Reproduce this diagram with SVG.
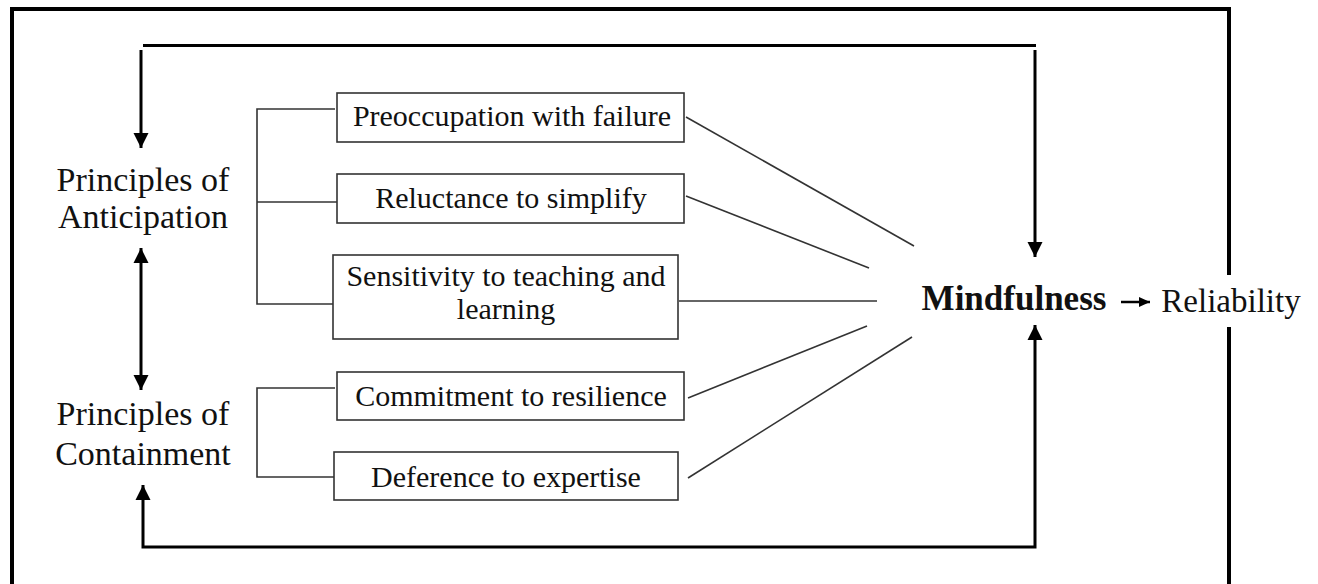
<svg xmlns="http://www.w3.org/2000/svg" width="1318" height="584" viewBox="0 0 1318 584">
<style>
  text { font-family: "Liberation Serif", "Times New Roman", serif; fill: #111; }
  .lbl { font-size: 34px; text-anchor: middle; }
  .box rect { fill: #fff; stroke: #333; stroke-width: 1.6; }
  .box text { font-size: 30px; text-anchor: middle; }
  .thin { stroke: #333; stroke-width: 1.6; fill: none; }
  .fb { stroke: #000; stroke-width: 3; fill: none; }
  .frame { stroke: #000; stroke-width: 4; fill: none; }
</style>
<defs>
  <marker id="ah" markerUnits="userSpaceOnUse" markerWidth="16" markerHeight="16" viewBox="0 0 16 16" refX="15" refY="8" orient="auto-start-reverse">
    <path d="M0,0.5 L15,8 L0,15.5 Z" fill="#000"/>
  </marker>
  <marker id="ahs" markerUnits="userSpaceOnUse" markerWidth="12" markerHeight="12" viewBox="0 0 12 12" refX="11" refY="6" orient="auto">
    <path d="M0,1 L11,6 L0,11 Z" fill="#000"/>
  </marker>
</defs>
<rect width="1318" height="584" fill="#fff"/>
<g id="frame">
  <path class="frame" d="M12,584 V9 H1229 V275"/>
  <path class="frame" d="M1229,327 V584"/>
</g>
<g id="connectors">
  <line class="fb" x1="143" y1="45.5" x2="1036" y2="45.5"/>
  <line class="fb" x1="141" y1="50" x2="141" y2="148" marker-end="url(#ah)"/>
  <line class="fb" x1="1035" y1="50" x2="1035" y2="257" marker-end="url(#ah)"/>
  <line class="fb" x1="141" y1="248" x2="141" y2="390" marker-start="url(#ah)" marker-end="url(#ah)"/>
  <path class="fb" d="M143,485 V547 H1035 V325" marker-start="url(#ah)" marker-end="url(#ah)"/>
  <path class="thin" d="M335,109 H257 V304 H333"/>
  <line class="thin" x1="257" y1="202" x2="337" y2="202"/>
  <path class="thin" d="M335,388 H257 V477 H334"/>
  <line class="thin" x1="686" y1="117" x2="914" y2="246"/>
  <line class="thin" x1="686" y1="196" x2="869" y2="268"/>
  <line class="thin" x1="679" y1="301" x2="877" y2="301"/>
  <line class="thin" x1="688" y1="398" x2="867" y2="326"/>
  <line class="thin" x1="688" y1="478" x2="912" y2="337"/>
  <line x1="1121" y1="302" x2="1150" y2="302" stroke="#000" stroke-width="2.5" marker-end="url(#ahs)"/>
</g>
<g id="anticipation">
  <text class="lbl" x="143" y="191">Principles of</text>
  <text class="lbl" x="143" y="228">Anticipation</text>
</g>
<g id="containment">
  <text class="lbl" x="143" y="425">Principles of</text>
  <text class="lbl" x="143" y="465">Containment</text>
</g>
<g id="preoccupation" class="box">
  <rect x="337" y="93" width="347" height="49"/>
  <text x="512" y="126">Preoccupation with failure</text>
</g>
<g id="reluctance" class="box">
  <rect x="337" y="174" width="347" height="49"/>
  <text x="511" y="208">Reluctance to simplify</text>
</g>
<g id="sensitivity" class="box">
  <rect x="333" y="255" width="345" height="84"/>
  <text x="506" y="286">Sensitivity to teaching and</text>
  <text x="506" y="319">learning</text>
</g>
<g id="commitment" class="box">
  <rect x="337" y="372" width="347" height="48"/>
  <text x="511" y="406">Commitment to resilience</text>
</g>
<g id="deference" class="box">
  <rect x="334" y="452" width="344" height="48"/>
  <text x="506" y="487">Deference to expertise</text>
</g>
<g id="mindfulness">
  <text x="1014" y="310" font-size="35" font-weight="bold" text-anchor="middle">Mindfulness</text>
</g>
<g id="reliability">
  <text x="1231" y="312" font-size="33" text-anchor="middle">Reliability</text>
</g>
</svg>
